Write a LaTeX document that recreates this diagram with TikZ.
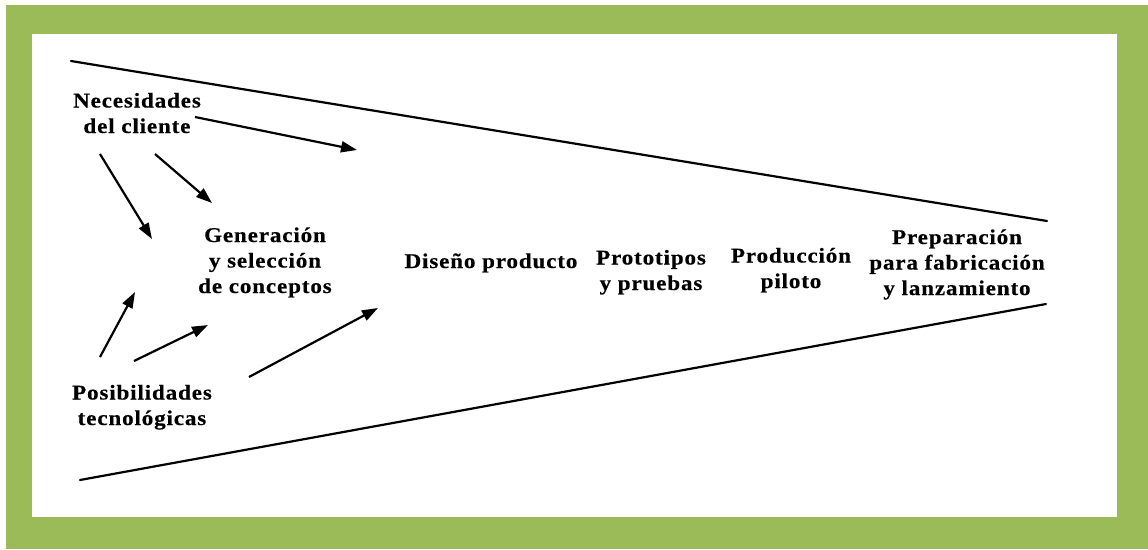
\documentclass[tikz,border=0pt]{standalone}
\usepackage{fontspec}
\setmainfont{Liberation Serif}[LetterSpace=4, FakeStretch=1.1, BoldFeatures={FakeBold=0.4}]
\usetikzlibrary{arrows.meta}
\definecolor{frame}{HTML}{9BBB59}
\begin{document}
\begin{tikzpicture}[x=1pt,y=-1pt,
  lbl/.style={font=\fontsize{21}{25.5}\selectfont\bfseries, align=center, inner sep=0pt, anchor=base},
  edge/.style={line width=2.2pt, line cap=round},
  arr/.style={line width=2.2pt, -{Triangle[length=16pt,width=11pt]}}]
  % frame and page
  \useasboundingbox (0,0) rectangle (1148,549);
  \fill[white] (0,0) rectangle (1148,549);
  \fill[frame] (6,5) rectangle (1148,549);
  \fill[white] (32,34) rectangle (1117,517);

  % funnel outline
  \coordinate (ftl) at (71,61);
  \coordinate (ftr) at (1047,221);
  \coordinate (fbl) at (80,480);
  \coordinate (fbr) at (1046,304);
  \draw[edge] (ftl) -- (ftr);
  \draw[edge] (fbl) -- (fbr);

  % stages (anchored at the baseline of the last line)
  \node[lbl] (nec) at (137,133) {Necesidades\\del cliente};
  \node[lbl] (gen) at (265,293) {Generación\\y selección\\de conceptos};
  \node[lbl] (pos) at (142,425) {Posibilidades\\tecnológicas};
  \node[lbl] (dis) at (491,268) {Diseño producto};
  \node[lbl] (pro) at (651,290) {Prototipos\\y pruebas};
  \node[lbl] (pil) at (791,288) {Producción\\piloto};
  \node[lbl] (pre) at (957,295) {Preparación\\para fabricación\\y lanzamiento};

  % arrow ends
  \coordinate (a1s) at (195,117);  \coordinate (a1e) at (357,150);
  \coordinate (a2s) at (100,154);  \coordinate (a2e) at (152,239);
  \coordinate (a3s) at (155,154);  \coordinate (a3e) at (212,203);
  \coordinate (a4s) at (100,357);  \coordinate (a4e) at (135,292);
  \coordinate (a5s) at (134,361);  \coordinate (a5e) at (208,325);
  \coordinate (a6s) at (249,377);  \coordinate (a6e) at (378,308);

  \draw[arr] (a1s) -- (a1e);
  \draw[arr] (a2s) -- (a2e);
  \draw[arr] (a3s) -- (a3e);
  \draw[arr] (a4s) -- (a4e);
  \draw[arr] (a5s) -- (a5e);
  \draw[arr] (a6s) -- (a6e);
\end{tikzpicture}
\end{document}
